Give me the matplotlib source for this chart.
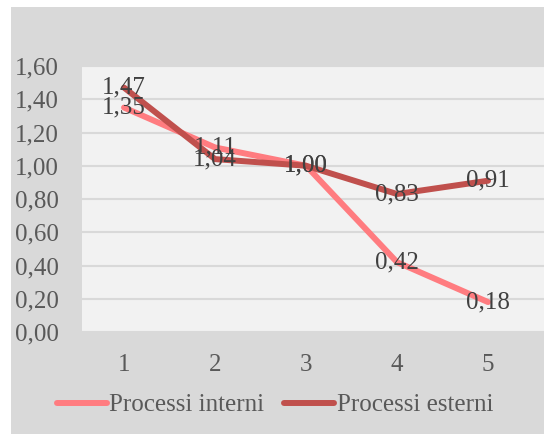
import matplotlib.pyplot as plt
from matplotlib.patches import Rectangle
from matplotlib.lines import Line2D

categories = [1, 2, 3, 4, 5]
interni = [1.35, 1.11, 1.00, 0.42, 0.18]
esterni = [1.47, 1.04, 1.00, 0.83, 0.91]
y_ticks = [0.0, 0.2, 0.4, 0.6, 0.8, 1.0, 1.2, 1.4, 1.6]

c_int = '#FF7C80'
c_est = '#C0504D'
txt = '#404040'
fs = 18

plt.rcParams['font.family'] = ['Liberation Serif', 'DejaVu Serif']

W, H = 544, 434
fig = plt.figure(figsize=(W / 100, H / 100), dpi=100)
fig.patch.set_facecolor('white')
fig.patches.append(Rectangle((11 / W, 0), 1 - 11 / W, 1 - 7 / H,
                             transform=fig.transFigure, facecolor='#D9D9D9',
                             edgecolor='none', zorder=-5))

ax = fig.add_axes([82 / W, 1 - 332 / H, 1 - 82 / W, (332 - 66) / H])
ax.set_zorder(1)
ax.set_facecolor('#F2F2F2')
for s in ax.spines.values():
    s.set_visible(False)

ax.set_ylim(0, 1.6)
ax.set_xlim(0.538, 5.615)
ax.set_yticks(y_ticks)
ax.set_yticklabels([f'{v:.2f}'.replace('.', ',') for v in y_ticks])
ax.set_xticks(categories)
ax.grid(axis='y', color='#D9D9D9', linewidth=1.5)
ax.set_axisbelow(True)
ax.tick_params(length=0, labelsize=fs, colors='#595959')
ax.tick_params(axis='y', pad=17)
ax.tick_params(axis='x', pad=16)

ax.plot(categories, interni, color=c_int, linewidth=4.3, solid_capstyle='round',
        label='Processi interni', zorder=3)
ax.plot(categories, esterni, color=c_est, linewidth=4.3, solid_capstyle='round',
        label='Processi esterni', zorder=3)

for x, v in zip(categories, interni):
    ax.text(x, v, f'{v:.2f}'.replace('.', ','), ha='center', va='center',
            fontsize=fs, color=txt, zorder=4)
for x, v in zip(categories, esterni):
    ax.text(x, v, f'{v:.2f}'.replace('.', ','), ha='center', va='center',
            fontsize=fs, color=txt, zorder=4)

handles = [Line2D([], [], color=c_int, linewidth=4.3, solid_capstyle='round'),
           Line2D([], [], color=c_est, linewidth=4.3, solid_capstyle='round')]
fig.legend(handles, ['Processi interni', 'Processi esterni'], loc='center',
           bbox_to_anchor=(275 / W, 1 - 405 / H), ncol=2, frameon=False,
           fontsize=fs, handlelength=2.0, handletextpad=0.1, columnspacing=0.8,
           labelcolor='#595959')

fig.savefig('out.png', dpi=100, facecolor=fig.get_facecolor())
